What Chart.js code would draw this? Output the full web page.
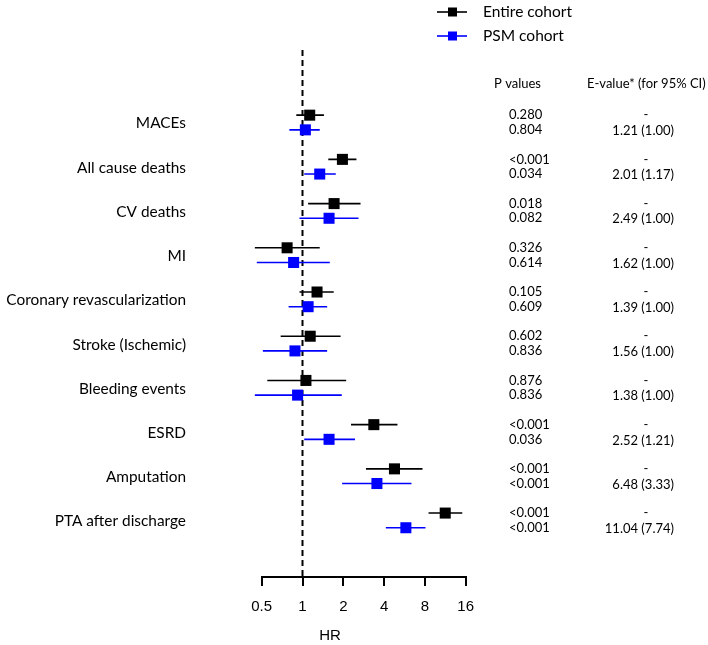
<!DOCTYPE html>
<html>
<head>
<meta charset="utf-8">
<script src="https://cdn.jsdelivr.net/npm/chart.js@4/dist/chart.umd.min.js"></script>
<style>
  html, body { margin: 0; padding: 0; background: #fff; }
  #wrap { width: 708px; height: 645px; position: relative; }
</style>
</head>
<body>
<div id="wrap"><canvas id="forest"></canvas></div>
<script>
/* forest plot: HR (log scale) entire cohort vs PSM cohort */

const OUTCOMES  = ['MACEs', 'All cause deaths', 'CV deaths', 'MI', 'Coronary revascularization',
                   'Stroke (Ischemic)', 'Bleeding events', 'ESRD', 'Amputation', 'PTA after discharge'];

const ENTIRE_HR = [1.13, 1.97, 1.71, 0.77, 1.28, 1.14, 1.06, 3.36, 4.77, 11.3];
const ENTIRE_LO = [0.90, 1.55, 1.10, 0.445, 0.95, 0.69, 0.55, 2.28, 2.94, 8.51];
const ENTIRE_HI = [1.44, 2.50, 2.68, 1.34, 1.70, 1.91, 2.10, 5.02, 7.68, 15.1];

const PSM_HR    = [1.05, 1.34, 1.57, 0.86, 1.10, 0.88, 0.92, 1.57, 3.54, 5.79];
const PSM_LO    = [0.80, 1.03, 0.95, 0.46, 0.79, 0.51, 0.445, 1.03, 1.96, 4.12];
const PSM_HI    = [1.34, 1.76, 2.59, 1.59, 1.52, 1.52, 1.95, 2.44, 6.37, 8.08];

const P_ENTIRE  = ['0.280', '<0.001', '0.018', '0.326', '0.105', '0.602', '0.876', '<0.001', '<0.001', '<0.001'];
const P_PSM     = ['0.804', '0.034', '0.082', '0.614', '0.609', '0.836', '0.836', '0.036', '<0.001', '<0.001'];
const E_ENTIRE  = ['-', '-', '-', '-', '-', '-', '-', '-', '-', '-'];
const E_PSM     = ['1.21 (1.00)', '2.01 (1.17)', '2.49 (1.00)', '1.62 (1.00)', '1.39 (1.00)',
                   '1.56 (1.00)', '1.38 (1.00)', '2.52 (1.21)', '6.48 (3.33)', '11.04 (7.74)'];

const X_TICKS   = [0.5, 1, 2, 4, 8, 16];

const SERIES = [
  { name: 'Entire cohort', color: '#000000', hr: ENTIRE_HR, lo: ENTIRE_LO, hi: ENTIRE_HI, p: P_ENTIRE, e: E_ENTIRE, off: -0.166 },
  { name: 'PSM cohort',    color: '#0000FF', hr: PSM_HR,    lo: PSM_LO,    hi: PSM_HI,    p: P_PSM,    e: E_PSM,    off:  0.166 },
];

const Y_MIN = -1.64, Y_MAX = 10.28;
const TXT = '"Lato", "Open Sans", sans-serif';

function ciData(s) {
  const out = [];
  OUTCOMES.forEach((_, i) => {
    out.push({ x: s.lo[i], y: i + s.off });
    out.push({ x: s.hi[i], y: i + s.off });
    out.push({ x: null, y: null });
  });
  return out;
}

function buildDatasets() {
  const ds = [];
  SERIES.forEach(s => {
    ds.push({
      type: 'scatter', label: s.name,
      data: s.hr.map((v, i) => ({ x: v, y: i + s.off })),
      pointStyle: 'rect', pointRadius: 7.8, pointHoverRadius: 7.8,
      backgroundColor: s.color, borderColor: s.color, borderWidth: 0,
      clip: false, order: 0,
    });
    ds.push({
      type: 'line', label: s.name + ' CI',
      data: ciData(s), showLine: true, spanGaps: false,
      borderColor: s.color, borderWidth: 1.6, pointRadius: 0,
      clip: false, order: 1,
    });
  });
  ds.push({
    type: 'line', label: 'ref',
    data: [{ x: 1, y: Y_MIN }, { x: 1, y: Y_MAX }],
    borderColor: '#000', borderWidth: 2, borderDash: [6, 4], pointRadius: 0,
    clip: false, order: 2,
  });
  return ds;
}

// labels, p values, e-values, legend, HR title
const textPlugin = {
  id: 'forestText',
  afterDraw(chart) {
    const { ctx, scales: { y } } = chart;
    ctx.save();
    ctx.fillStyle = '#000';
    ctx.textBaseline = 'middle';

    ctx.font = `15.4px ${TXT}`;
    ctx.textAlign = 'right';
    OUTCOMES.forEach((name, i) => ctx.fillText(name, 186, y.getPixelForValue(i) + 1));

    ctx.font = `13px ${TXT}`;
    ctx.textAlign = 'left';
    ctx.fillText('P values', 494, 84);
    ctx.fillText('E-value* (for 95% CI)', 587, 84);

    SERIES.forEach(s => {
      OUTCOMES.forEach((_, i) => {
        const py = y.getPixelForValue(i + s.off);
        ctx.textAlign = 'left';
        ctx.fillText(s.p[i], 509, py);
        if (s.e[i] === '-') { ctx.textAlign = 'center'; ctx.fillText('-', 646, py); }
        else { ctx.textAlign = 'right'; ctx.fillText(s.e[i], 674, py + 1); }
      });
    });

    // legend
    ctx.font = `15.5px ${TXT}`;
    SERIES.forEach((s, k) => {
      const ly = 12 + k * 24;
      ctx.strokeStyle = s.color; ctx.lineWidth = 1.6;
      ctx.beginPath(); ctx.moveTo(437, ly); ctx.lineTo(467, ly); ctx.stroke();
      ctx.fillStyle = s.color; ctx.fillRect(448, ly - 4.5, 9, 9);
      ctx.fillStyle = '#000'; ctx.textAlign = 'left';
      ctx.fillText(s.name, 483, ly);
    });

    ctx.font = '15px "Liberation Sans", Arial, sans-serif';
    ctx.textAlign = 'center';
    ctx.fillText('HR', 330, 636);
    ctx.restore();
  },
};

new Chart(document.getElementById('forest'), {
  data: { datasets: buildDatasets() },
  options: {
    responsive: true, maintainAspectRatio: false, animation: false,
    layout: { padding: { top: 50, left: 261.7, right: 242.3, bottom: 17 } },
    plugins: { legend: { display: false }, tooltip: { enabled: false } },
    scales: {
      x: {
        type: 'logarithmic', min: 0.5, max: 16,
        afterBuildTicks: sc => { sc.ticks = X_TICKS.map(v => ({ value: v })); },
        ticks: { callback: v => String(v), color: '#000', padding: 12, maxRotation: 0,
                 font: { family: '"Liberation Sans", Arial, sans-serif', size: 15 } },
        grid: { drawOnChartArea: false, drawTicks: true, tickLength: 9, color: '#000', lineWidth: 2 },
        border: { display: true, color: '#000', width: 2 },
      },
      y: { type: 'linear', min: Y_MIN, max: Y_MAX, reverse: true, display: false },
    },
  },
  plugins: [textPlugin],
});
</script>
</body>
</html>
